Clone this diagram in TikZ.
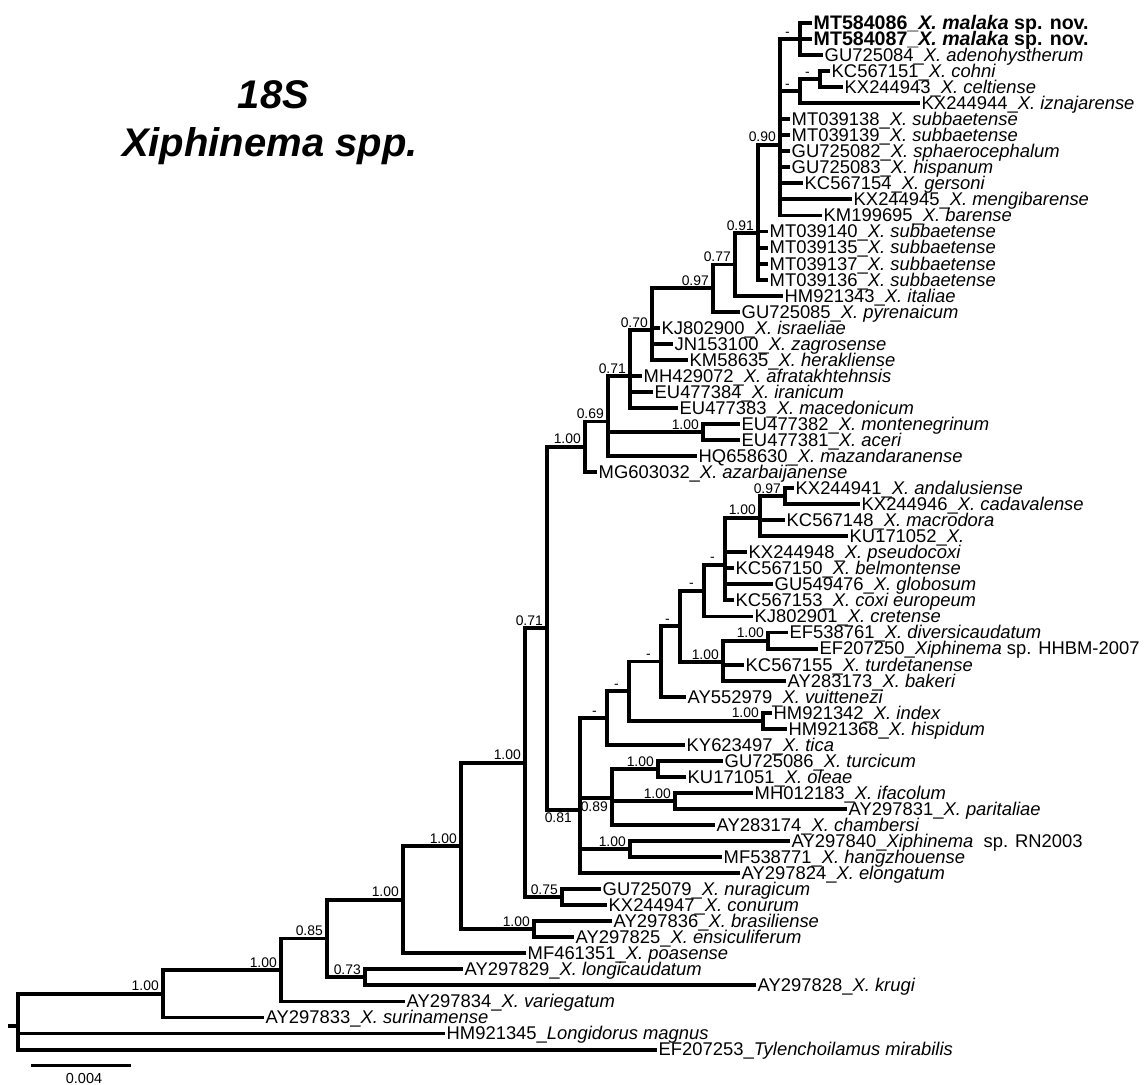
\documentclass[tikz,border=0pt]{standalone}
\usepackage{fontspec}
\setmainfont{Liberation Sans}
\newcommand\leaffont{\fontsize{18.4}{18.4}\selectfont}
\newcommand\boldleaffont{\fontsize{19.6}{19.6}\selectfont\bfseries}
\newcommand\suppfont{\fontsize{13.9}{13.9}\selectfont}
\tikzset{
  declare function={ry(\i)=23+16.04*\i;},
  br/.style={line width=3.9pt},
  leaf/.style={anchor=west, inner xsep=1.5pt, inner ysep=0pt, text height=12.8pt, text depth=0pt, font=\leaffont},
  boldleaf/.style={leaf, font=\boldleaffont},
  supp/.style={anchor=south east, inner sep=0pt, font=\suppfont, xshift=-4pt, yshift=2.5pt},
  suppdash/.style={supp, xshift=-6pt},
  supplow/.style={anchor=north east, inner sep=0pt, font=\suppfont, xshift=-4pt, yshift=-3pt},
  title/.style={anchor=base, inner sep=0pt, font=\fontsize{40}{40}\selectfont\bfseries\itshape},
}
\begin{document}
\begin{tikzpicture}[x=1pt,y=-1pt]
\useasboundingbox (0,0) rectangle (1147,1084);

\node[title] (t18s) at (273.5,108) {18S};
\node[title] (tspp) at (270,156.5) {Xiphinema spp.};

\coordinate (stub) at (8,{ry(62.506)});
\coordinate (root) at (18,{ry(62.506)});
\coordinate (nA) at (163,{ry(60.519)});
\coordinate (nB) at (281,{ry(59.038)});
\coordinate (nC) at (327,{ry(57.077)});
\coordinate (nD) at (403,{ry(54.654)});
\coordinate (nE) at (365,{ry(59.5)});
\coordinate (nF) at (461,{ry(51.308)});
\coordinate (nG) at (525,{ry(46.116)});
\coordinate (nH) at (534,{ry(56.5)});
\coordinate (nI) at (547,{ry(37.731)});
\coordinate (nJ) at (562,{ry(54.5)});
\coordinate (nK) at (585,{ry(26.422)});
\coordinate (nL) at (580,{ry(49.04)});
\coordinate (nM) at (607,{ry(43.326)});
\coordinate (nN) at (612,{ry(48.333)});
\coordinate (nO) at (630,{ry(51.5)});
\coordinate (nX) at (658,{ry(46.5)});
\coordinate (nY) at (675,{ry(48.5)});
\coordinate (nQ) at (629,{ry(41.652)});
\coordinate (nS) at (763,{ry(43.5)});
\coordinate (nR) at (661,{ry(39.804)});
\coordinate (nT) at (680,{ry(37.608)});
\coordinate (nAH) at (723,{ry(39.833)});
\coordinate (nAI) at (768,{ry(38.5)});
\coordinate (nU) at (704,{ry(35.383)});
\coordinate (nAJ) at (725,{ry(33.767)});
\coordinate (nAK) at (760,{ry(30.833)});
\coordinate (nAL) at (785,{ry(29.5)});
\coordinate (nP) at (608,{ry(24.844)});
\coordinate (nW) at (703,{ry(25.5)});
\coordinate (nV) at (630,{ry(22.033)});
\coordinate (nZ) at (652,{ry(19.132)});
\coordinate (nAA) at (713,{ry(16.529)});
\coordinate (nAB) at (735,{ry(15.058)});
\coordinate (nAC) at (758,{ry(13.117)});
\coordinate (nAD) at (780,{ry(7.583)});
\coordinate (nAE) at (800,{ry(1)});
\coordinate (nAF) at (800,{ry(4.25)});
\coordinate (nAG) at (820,{ry(3.5)});

\node[boldleaf] (mt584086) at (812,{ry(0)}) {MT584086\_\textit{X. malaka} sp. nov.};
\node[boldleaf] (mt584087) at (812,{ry(1)}) {MT584087\_\textit{X. malaka} sp. nov.};
\node[leaf] (gu725084) at (823,{ry(2)}) {GU725084\_\textit{X. adenohystherum}};
\node[leaf] (kc567151) at (830,{ry(3)}) {KC567151\_\textit{X. cohni}};
\node[leaf] (kx244943) at (843,{ry(4)}) {KX244943\_\textit{X. celtiense}};
\node[leaf] (kx244944) at (920,{ry(5)}) {KX244944\_\textit{X. iznajarense}};
\node[leaf] (mt039138) at (790,{ry(6)}) {MT039138\_\textit{X. subbaetense}};
\node[leaf] (mt039139) at (790,{ry(7)}) {MT039139\_\textit{X. subbaetense}};
\node[leaf] (gu725082) at (790,{ry(8)}) {GU725082\_\textit{X. sphaerocephalum}};
\node[leaf] (gu725083) at (790,{ry(9)}) {GU725083\_\textit{X. hispanum}};
\node[leaf] (kc567154) at (803,{ry(10)}) {KC567154\_\textit{X. gersoni}};
\node[leaf] (kx244945) at (852,{ry(11)}) {KX244945\_\textit{X. mengibarense}};
\node[leaf] (km199695) at (822,{ry(12)}) {KM199695\_\textit{X. barense}};
\node[leaf] (mt039140) at (768,{ry(13)}) {MT039140\_\textit{X. subbaetense}};
\node[leaf] (mt039135) at (768,{ry(14)}) {MT039135\_\textit{X. subbaetense}};
\node[leaf] (mt039137) at (768,{ry(15)}) {MT039137\_\textit{X. subbaetense}};
\node[leaf] (mt039136) at (768,{ry(16)}) {MT039136\_\textit{X. subbaetense}};
\node[leaf] (hm921343) at (783,{ry(17)}) {HM921343\_\textit{X. italiae}};
\node[leaf] (gu725085) at (740,{ry(18)}) {GU725085\_\textit{X. pyrenaicum}};
\node[leaf] (kj802900) at (660,{ry(19)}) {KJ802900\_\textit{X. israeliae}};
\node[leaf] (jn153100) at (673,{ry(20)}) {JN153100\_\textit{X. zagrosense}};
\node[leaf] (km58635) at (688,{ry(21)}) {KM58635\_\textit{X. herakliense}};
\node[leaf] (mh429072) at (642,{ry(22)}) {MH429072\_\textit{X. afratakhtehnsis}};
\node[leaf] (eu477384) at (653,{ry(23)}) {EU477384\_\textit{X. iranicum}};
\node[leaf] (eu477383) at (678,{ry(24)}) {EU477383\_\textit{X. macedonicum}};
\node[leaf] (eu477382) at (740,{ry(25)}) {EU477382\_\textit{X. montenegrinum}};
\node[leaf] (eu477381) at (740,{ry(26)}) {EU477381\_\textit{X. aceri}};
\node[leaf] (hq658630) at (697,{ry(27)}) {HQ658630\_\textit{X. mazandaranense}};
\node[leaf] (mg603032) at (597,{ry(28)}) {MG603032\_\textit{X. azarbaijanense}};
\node[leaf] (kx244941) at (794,{ry(29)}) {KX244941\_\textit{X. andalusiense}};
\node[leaf] (kx244946) at (860,{ry(30)}) {KX244946\_\textit{X. cadavalense}};
\node[leaf] (kc567148) at (785,{ry(31)}) {KC567148\_\textit{X. macrodora}};
\node[leaf] (ku171052) at (848,{ry(32)}) {KU171052\_\textit{X.}};
\node[leaf] (kx244948) at (747,{ry(33)}) {KX244948\_\textit{X. pseudocoxi}};
\node[leaf] (kc567150) at (734,{ry(34)}) {KC567150\_\textit{X. belmontense}};
\node[leaf] (gu549476) at (773,{ry(35)}) {GU549476\_\textit{X. globosum}};
\node[leaf] (kc567153) at (734,{ry(36)}) {KC567153\_\textit{X. coxi europeum}};
\node[leaf] (kj802901) at (753,{ry(37)}) {KJ802901\_\textit{X. cretense}};
\node[leaf] (ef538761) at (788,{ry(38)}) {EF538761\_\textit{X. diversicaudatum}};
\node[leaf] (ef207250) at (818,{ry(39)}) {EF207250\_\textit{Xiphinema} sp. HHBM-2007};
\node[leaf] (kc567155) at (744,{ry(40)}) {KC567155\_\textit{X. turdetanense}};
\node[leaf] (ay283173) at (786,{ry(41)}) {AY283173\_\textit{X. bakeri}};
\node[leaf] (ay552979) at (686,{ry(42)}) {AY552979\_\textit{X. vuittenezi}};
\node[leaf] (hm921342) at (772,{ry(43)}) {HM921342\_\textit{X. index}};
\node[leaf] (hm921368) at (787,{ry(44)}) {HM921368\_\textit{X. hispidum}};
\node[leaf] (ky623497) at (685,{ry(45)}) {KY623497\_\textit{X. tica}};
\node[leaf] (gu725086) at (723,{ry(46)}) {GU725086\_\textit{X. turcicum}};
\node[leaf] (ku171051) at (686,{ry(47)}) {KU171051\_\textit{X. oleae}};
\node[leaf] (mh012183) at (753,{ry(48)}) {MH012183\_\textit{X. ifacolum}};
\node[leaf] (ay297831) at (847,{ry(49)}) {AY297831\_\textit{X. paritaliae}};
\node[leaf] (ay283174) at (715,{ry(50)}) {AY283174\_\textit{X. chambersi}};
\node[leaf] (ay297840) at (790,{ry(51)}) {AY297840\_\textit{Xiphinema}\ \ sp. RN2003};
\node[leaf] (mf538771) at (722,{ry(52)}) {MF538771\_\textit{X. hangzhouense}};
\node[leaf] (ay297824) at (740,{ry(53)}) {AY297824\_\textit{X. elongatum}};
\node[leaf] (gu725079) at (601,{ry(54)}) {GU725079\_\textit{X. nuragicum}};
\node[leaf] (kx244947) at (607,{ry(55)}) {KX244947\_\textit{X. conurum}};
\node[leaf] (ay297836) at (612,{ry(56)}) {AY297836\_\textit{X. brasiliense}};
\node[leaf] (ay297825) at (574,{ry(57)}) {AY297825\_\textit{X. ensiculiferum}};
\node[leaf] (mf461351) at (526,{ry(58)}) {MF461351\_\textit{X. poasense}};
\node[leaf] (ay297829) at (463,{ry(59)}) {AY297829\_\textit{X. longicaudatum}};
\node[leaf] (ay297828) at (756,{ry(60)}) {AY297828\_\textit{X. krugi}};
\node[leaf] (ay297834) at (405,{ry(61)}) {AY297834\_\textit{X. variegatum}};
\node[leaf] (ay297833) at (264,{ry(62)}) {AY297833\_\textit{X. surinamense}};
\node[leaf] (hm921345) at (445,{ry(63)}) {HM921345\_\textit{Longidorus magnus}};
\node[leaf] (ef207253) at (657,{ry(64)}) {EF207253\_\textit{Tylenchoilamus mirabilis}};

\draw[br] (stub) -- (root);
\draw[br] (root) |- (nA) (root) |- (hm921345.west) (root) |- (ef207253.west);
\draw[br] (nA) |- (nB) (nA) |- (ay297833.west);
\draw[br] (nB) |- (nC) (nB) |- (ay297834.west);
\draw[br] (nC) |- (nD) (nC) |- (nE);
\draw[br] (nE) |- (ay297829.west) (nE) |- (ay297828.west);
\draw[br] (nD) |- (nF) (nD) |- (mf461351.west);
\draw[br] (nF) |- (nG) (nF) |- (nH);
\draw[br] (nH) |- (ay297836.west) (nH) |- (ay297825.west);
\draw[br] (nG) |- (nI) (nG) |- (nJ);
\draw[br] (nJ) |- (gu725079.west) (nJ) |- (kx244947.west);
\draw[br] (nI) |- (nK) (nI) |- (nL);
\draw[br] (nL) |- (nM) (nL) |- (nN) (nL) |- (nO) (nL) |- (ay297824.west);
\draw[br] (nO) |- (ay297840.west) (nO) |- (mf538771.west);
\draw[br] (nN) |- (nX) (nN) |- (nY) (nN) |- (ay283174.west);
\draw[br] (nX) |- (gu725086.west) (nX) |- (ku171051.west);
\draw[br] (nY) |- (mh012183.west) (nY) |- (ay297831.west);
\draw[br] (nM) |- (nQ) (nM) |- (ky623497.west);
\draw[br] (nQ) |- (nR) (nQ) |- (nS);
\draw[br] (nS) |- (hm921342.west) (nS) |- (hm921368.west);
\draw[br] (nR) |- (nT) (nR) |- (ay552979.west);
\draw[br] (nT) |- (nU) (nT) |- (nAH);
\draw[br] (nAH) |- (nAI) (nAH) |- (kc567155.west) (nAH) |- (ay283173.west);
\draw[br] (nAI) |- (ef538761.west) (nAI) |- (ef207250.west);
\draw[br] (nU) |- (nAJ) (nU) |- (kj802901.west);
\draw[br] (nAJ) |- (nAK) (nAJ) |- (kx244948.west) (nAJ) |- (kc567150.west) (nAJ) |- (gu549476.west) (nAJ) |- (kc567153.west);
\draw[br] (nAK) |- (nAL) (nAK) |- (kc567148.west) (nAK) |- (ku171052.west);
\draw[br] (nAL) |- (kx244941.west) (nAL) |- (kx244946.west);
\draw[br] (nK) |- (nP) (nK) |- (mg603032.west);
\draw[br] (nP) |- (nV) (nP) |- (nW) (nP) |- (hq658630.west);
\draw[br] (nW) |- (eu477382.west) (nW) |- (eu477381.west);
\draw[br] (nV) |- (nZ) (nV) |- (mh429072.west) (nV) |- (eu477384.west) (nV) |- (eu477383.west);
\draw[br] (nZ) |- (nAA) (nZ) |- (kj802900.west) (nZ) |- (jn153100.west) (nZ) |- (km58635.west);
\draw[br] (nAA) |- (nAB) (nAA) |- (gu725085.west);
\draw[br] (nAB) |- (nAC) (nAB) |- (hm921343.west);
\draw[br] (nAC) |- (nAD) (nAC) |- (mt039140.west) (nAC) |- (mt039135.west) (nAC) |- (mt039137.west) (nAC) |- (mt039136.west);
\draw[br] (nAD) |- (nAE) (nAD) |- (nAF) (nAD) |- (mt039138.west) (nAD) |- (mt039139.west) (nAD) |- (gu725082.west)
  (nAD) |- (gu725083.west) (nAD) |- (kc567154.west) (nAD) |- (kx244945.west) (nAD) |- (km199695.west);
\draw[br] (nAE) |- (mt584086.west) (nAE) |- (mt584087.west) (nAE) |- (gu725084.west);
\draw[br] (nAF) |- (nAG) (nAF) |- (kx244944.west);
\draw[br] (nAG) |- (kc567151.west) (nAG) |- (kx244943.west);

\node[supp] (sA) at (nA) {1.00};
\node[supp] (sB) at (nB) {1.00};
\node[supp] (sC) at (nC) {0.85};
\node[supp] (sD) at (nD) {1.00};
\node[supp] (sE) at (nE) {0.73};
\node[supp] (sF) at (nF) {1.00};
\node[supp] (sG) at (nG) {1.00};
\node[supp] (sH) at (nH) {1.00};
\node[supp] (sI) at (nI) {0.71};
\node[supp] (sJ) at (nJ) {0.75};
\node[supplow, xshift=-4pt] (sL) at (nL) {0.81};
\node[supplow] (sN) at (nN) {0.89};
\node[supp] (sO) at (nO) {1.00};
\node[supp] (sX) at (nX) {1.00};
\node[supp] (sY) at (nY) {1.00};
\node[suppdash] (sM) at (nM) {-};
\node[suppdash] (sQ) at (nQ) {-};
\node[suppdash] (sR) at (nR) {-};
\node[suppdash] (sT) at (nT) {-};
\node[suppdash] (sU) at (nU) {-};
\node[suppdash] (sAJ) at (nAJ) {-};
\node[supp] (sS) at (nS) {1.00};
\node[supp] (sAH) at (nAH) {1.00};
\node[supp] (sAI) at (nAI) {1.00};
\node[supp] (sAK) at (nAK) {1.00};
\node[supp] (sAL) at (nAL) {0.97};
\node[supp] (sK) at (nK) {1.00};
\node[supp] (sP) at (nP) {0.69};
\node[supp] (sW) at (nW) {1.00};
\node[supp] (sV) at (nV) {0.71};
\node[supp] (sZ) at (nZ) {0.70};
\node[supp] (sAA) at (nAA) {0.97};
\node[supp] (sAB) at (nAB) {0.77};
\node[supp] (sAC) at (nAC) {0.91};
\node[supp] (sAD) at (nAD) {0.90};
\node[suppdash] (sAE) at (nAE) {-};
\node[suppdash] (sAF) at (nAF) {-};
\node[suppdash] (sAG) at (nAG) {-};

\coordinate (sb0) at (31,1065);
\coordinate (sb1) at (131,1065);
\draw[line width=3pt] (sb0) -- (sb1);
\node[anchor=base, inner sep=0pt, font=\fontsize{14.5}{14.5}\selectfont] (sblab) at (84,1083) {0.004};

\end{tikzpicture}
\end{document}
